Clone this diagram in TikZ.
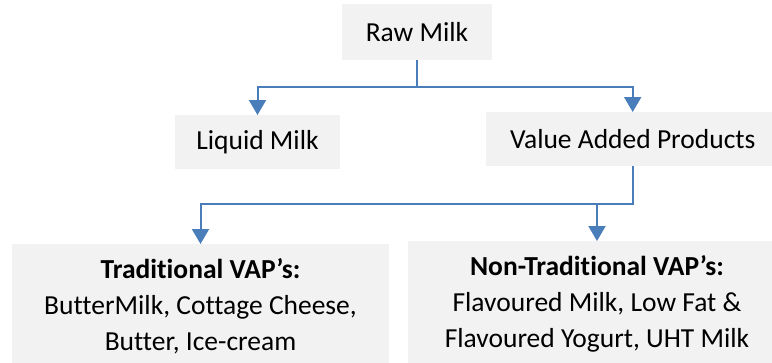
\documentclass[tikz,border=0pt]{standalone}
\usepackage{fontspec}
\setmainfont[Ligatures=NoCommon]{Carlito}
\usepackage{tikz}
\usetikzlibrary{arrows.meta}
\definecolor{linkblue}{HTML}{4A7EBB}
\definecolor{boxgray}{HTML}{F2F2F2}

\begin{document}
\begin{tikzpicture}[x=1pt, y=-1pt,
box/.style={fill=boxgray, inner sep=0pt, outer sep=0pt, align=center,
  font=\fontsize{27.5}{36}\selectfont},
link/.style={draw=linkblue, line width=2pt, -{Triangle[width=17pt,length=15pt]}}]
\useasboundingbox (0,0) rectangle (772,362);
\node[box, minimum width=150pt, minimum height=56pt] (raw) at (417,32) {Raw Milk};
\node[box, minimum width=165pt, minimum height=54pt] (liquid) at (257.5,142) {Liquid Milk};
\node[box, minimum width=293pt, minimum height=54pt] (vap) at (632.7,139) {Value Added Products};
\node[box, minimum width=377pt, minimum height=124pt] (trad) at (200.5,306)
  {\textbf{Traditional VAP’s:}\\ButterMilk, Cottage Cheese,\\Butter, Ice-cream};
\node[box, minimum width=378pt, minimum height=126pt] (nontrad) at (597,304)
  {\textbf{Non-Traditional VAP’s:}\\Flavoured Milk, Low Fat \&\\Flavoured Yogurt, UHT Milk};
\coordinate (rawsplit) at (417,87);
\coordinate (vapsplit) at (632.7,204);
\draw[link] (raw.south) -- (rawsplit) -| (liquid.north);
\draw[link] (rawsplit) -| (vap.north);
\draw[link] (vap.south) -- (vapsplit) -| (trad.north);
\draw[link] (vapsplit) -| (nontrad.north);
\end{tikzpicture}
\end{document}
